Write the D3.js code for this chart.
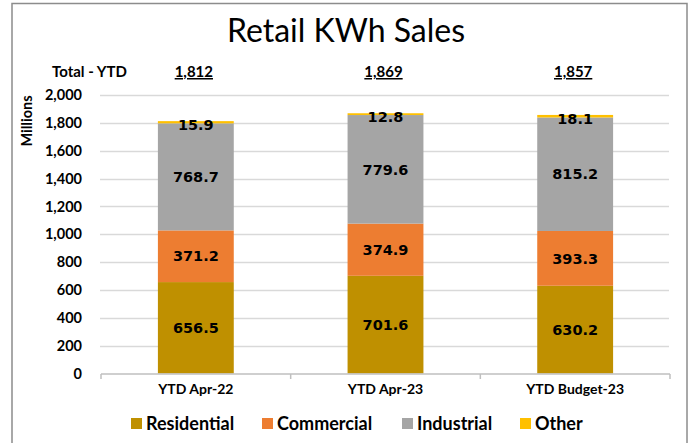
<!DOCTYPE html>
<html>
<head>
<meta charset="utf-8">
<script src="https://cdn.jsdelivr.net/npm/d3@7"></script>
<style>
  body { margin: 0; background: #fff; }
  text { font-family: Lato, "Open Sans", sans-serif; fill: #000; }
</style>
</head>
<body>
<div id="vis"></div>
<script>
//chart data
const CATEGORIES = ["YTD Apr-22", "YTD Apr-23", "YTD Budget-23"];
const SERIES = ["Residential", "Commercial", "Industrial", "Other"];
const RESIDENTIAL = [656.5, 701.6, 630.2];
const COMMERCIAL = [371.2, 374.9, 393.3];
const INDUSTRIAL = [768.7, 779.6, 815.2];
const OTHER = [15.9, 12.8, 18.1];
const TOTALS = ["1,812", "1,869", "1,857"];
const Y_TICKS = [0, 200, 400, 600, 800, 1000, 1200, 1400, 1600, 1800, 2000];

const COLORS = ["#BF9000", "#ED7D31", "#A5A5A5", "#FFC000"];

//frame constants
const FRAME_WIDTH = 689;
const FRAME_HEIGHT = 443;
const MARGINS = {left: 101, right: 19, top: 95, bottom: 70};
const VIS_WIDTH = FRAME_WIDTH - MARGINS.left - MARGINS.right;
const VIS_HEIGHT = FRAME_HEIGHT - MARGINS.top - MARGINS.bottom;

const FRAME = d3.select("#vis")
                .append("svg")
                  .attr("width", FRAME_WIDTH)
                  .attr("height", FRAME_HEIGHT);

//outer border
FRAME.append("rect")
      .attr("x", 12)
      .attr("y", 3.5)
      .attr("width", 675)
      .attr("height", 450)
      .attr("fill", "none")
      .attr("stroke", "#8c8c8c")
      .attr("stroke-width", 1.5);

//build stacked rows
const rows = CATEGORIES.map((c, i) => {
  return {cat: c, Residential: RESIDENTIAL[i], Commercial: COMMERCIAL[i],
          Industrial: INDUSTRIAL[i], Other: OTHER[i]};
});
const stacked = d3.stack().keys(SERIES)(rows);

const X_SCALE = d3.scaleBand()
                  .domain(CATEGORIES)
                  .range([0, 569])
                  .paddingInner(0.6)
                  .paddingOuter(0.3);

const Y_SCALE = d3.scaleLinear()
                  .domain([0, 2000])
                  .range([VIS_HEIGHT + 0.5, 0]);

const G = FRAME.append("g")
               .attr("transform", "translate(" + MARGINS.left + "," + MARGINS.top + ")");

//gridlines
G.append("g")
  .selectAll("line")
  .data(Y_TICKS.slice(1))
  .enter()
  .append("line")
    .attr("x1", -1)
    .attr("x2", 568)
    .attr("y1", (d) => { return Math.round(Y_SCALE(d)) + 0.5; })
    .attr("y2", (d) => { return Math.round(Y_SCALE(d)) + 0.5; })
    .attr("stroke", "#d9d9d9")
    .attr("stroke-width", 1.5);

//y axis labels
const yAxis = G.append("g")
  .call(d3.axisLeft(Y_SCALE).tickValues(Y_TICKS).tickSize(0).tickPadding(19)
          .tickFormat(d3.format(",")));
yAxis.select(".domain").remove();
yAxis.selectAll("text")
      .attr("font-family", "Lato, sans-serif")
      .attr("font-weight", "bold")
      .attr("font-size", "14.5px")
      .attr("fill", "#000");

//bars
const layers = G.selectAll(".layer")
  .data(stacked)
  .enter()
  .append("g")
    .attr("fill", (d, i) => { return COLORS[i]; });

layers.selectAll("rect")
  .data((d) => { return d; })
  .enter()
  .append("rect")
    .attr("x", (d) => { return X_SCALE(d.data.cat); })
    .attr("width", X_SCALE.bandwidth())
    .attr("y", (d) => { return Y_SCALE(d[1]); })
    .attr("height", (d) => { return Y_SCALE(d[0]) - Y_SCALE(d[1]); });

//data labels
stacked.forEach((layer) => {
  G.append("g")
    .selectAll("text")
    .data(layer)
    .enter()
    .append("text")
      .attr("x", (d) => { return X_SCALE(d.data.cat) + X_SCALE.bandwidth() / 2; })
      .attr("y", (d) => { return Y_SCALE((d[0] + d[1]) / 2); })
      .attr("dy", layer.key === "Other" ? "0.55em" : "0.36em")
      .attr("text-anchor", "middle")
      .style("font-family", "'DejaVu Sans', sans-serif")
      .attr("font-weight", "bold")
      .attr("font-size", "14.5px")
      .text((d) => { return (d[1] - d[0]).toFixed(1); });
});

//x axis
const xAxis = G.append("g")
  .attr("transform", "translate(0," + (VIS_HEIGHT + 1) + ")");
xAxis.append("line")
  .attr("x1", 0).attr("x2", 569)
  .attr("y1", 0).attr("y2", 0)
  .attr("stroke", "#bfbfbf")
  .attr("stroke-width", 1.5);
xAxis.selectAll(".tk")
  .data([0, 1, 2, 3])
  .enter()
  .append("line")
    .attr("x1", (d) => { return d * X_SCALE.step(); })
    .attr("x2", (d) => { return d * X_SCALE.step(); })
    .attr("y1", 0).attr("y2", 5)
    .attr("stroke", "#bfbfbf")
    .attr("stroke-width", 1.5);
xAxis.selectAll(".cat")
  .data(CATEGORIES)
  .enter()
  .append("text")
    .attr("x", (d) => { return X_SCALE(d) + X_SCALE.bandwidth() / 2; })
    .attr("y", 20)
    .attr("text-anchor", "middle")
    .attr("font-weight", "bold")
    .attr("font-size", "14px")
    .text((d) => { return d; });

//totals row
G.append("text")
  .attr("x", -49)
  .attr("y", -18)
  .attr("font-weight", "bold")
  .attr("font-size", "15px")
  .text("Total - YTD");
G.selectAll(".total")
  .data(CATEGORIES)
  .enter()
  .append("text")
    .attr("x", (d) => { return X_SCALE(d) + X_SCALE.bandwidth() / 2 - 2; })
    .attr("y", -18)
    .attr("text-anchor", "middle")
    .attr("font-weight", "bold")
    .attr("font-size", "15px")
    .attr("text-decoration", "underline")
    .text((d, i) => { return TOTALS[i]; });

//y axis title
FRAME.append("text")
  .attr("transform", "translate(32,121) rotate(-90)")
  .attr("text-anchor", "middle")
  .attr("font-weight", "bold")
  .attr("font-size", "14.5px")
  .text("Millions");

//chart title
FRAME.append("text")
  .attr("x", 346)
  .attr("y", 42)
  .attr("text-anchor", "middle")
  .attr("font-size", "32px")
  .text("Retail KWh Sales");

//legend
const LEGEND_X = [131, 262, 402, 520];
const legend = FRAME.selectAll(".leg")
  .data(SERIES)
  .enter()
  .append("g")
    .attr("transform", (d, i) => { return "translate(" + LEGEND_X[i] + ",418)"; });
legend.append("rect")
  .attr("width", 11)
  .attr("height", 11)
  .attr("fill", (d, i) => { return COLORS[i]; });
legend.append("text")
  .attr("x", 15)
  .attr("y", 6)
  .attr("dy", "0.36em")
  .attr("font-weight", "bold")
  .attr("font-size", "18px")
  .text((d) => { return d; });
</script>
</body>
</html>
